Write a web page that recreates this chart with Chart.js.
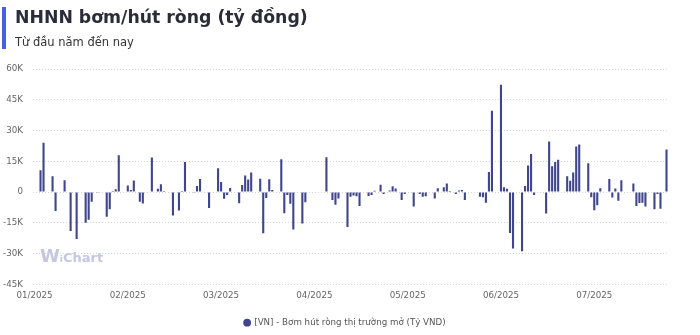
<!DOCTYPE html>
<html>
<head>
<meta charset="utf-8">
<style>
html,body{margin:0;padding:0;background:#fff;}
#wrap{position:relative;width:700px;height:335px;overflow:hidden;font-family:"DejaVu Sans",sans-serif;}
#accent{position:absolute;left:2px;top:7px;width:4px;height:42px;background:#4461e6;}
#title{position:absolute;left:15px;top:6px;font-size:17.3px;font-weight:bold;color:#2b2b3a;white-space:nowrap;line-height:22px;}
#sub{position:absolute;left:15px;top:35px;font-size:11.5px;color:#333;white-space:nowrap;line-height:14px;}
#wm{position:absolute;left:40px;top:246px;color:#c4c7e2;font-weight:bold;white-space:nowrap;line-height:20px;}
canvas{position:absolute;left:0;top:0;}
</style>
<script src="https://cdn.jsdelivr.net/npm/chart.js@4"></script>
</head>
<body>
<div id="wrap">
  <canvas id="c" width="700" height="335"></canvas>
  <div id="accent"></div>
  <div id="title">NHNN bơm/hút ròng (tỷ đồng)</div>
  <div id="sub">Từ đầu năm đến nay</div>
  <div id="wm"><span style="font-size:18px">W</span><span style="font-size:9px">i</span><span style="font-size:13px">Chart</span></div>
</div>
<script>
// ---- data ----
const startDate = '2025-01-01';
const dayCount = 211;               // calendar days on the category axis
const tickEvery = 31;               // a month label every 31 categories
const monthLabels = ['01/2025','02/2025','03/2025','04/2025','05/2025','06/2025','07/2025'];
const seriesName = '[VN] - Bơm hút ròng thị trường mở (Tỷ VND)';

// day index (from 01/01/2025) of each bar
const barDays = [
  2,3,6,7,10,12,14,17,18,19,21,24,25,26,27,28,31,32,33,35,36,39,40,41,42,43,
  46,48,49,50,53,54,55,58,61,62,63,64,65,68,69,70,71,72,75,76,77,78,79,
  82,83,84,85,86,89,90,97,99,100,101,104,105,106,107,108,111,112,113,115,116,
  118,119,120,122,123,126,128,129,130,133,134,136,137,138,140,141,142,143,144,
  148,149,150,151,152,155,156,157,158,159,162,163,164,165,166,
  170,171,172,173,174,177,178,179,180,181,184,185,186,187,188,
  191,192,193,194,195,199,200,201,202,203,206,207,208,210
];
// net injection (+) / withdrawal (-), tỷ đồng
const barValues = [
  10600,24000,7700,-9200,5800,-19000,-22900,-15000,-13500,-4700,-300,-12000,-8400,500,1300,17900,3200,1000,5600,-4700,-5600,16900,300,1600,3800,500,
  -11400,-9000,500,14600,-300,2900,6300,-7800,11600,4900,-3300,-1500,2000,-5500,3400,8000,6100,9500,6500,-20100,-2900,6200,1000,
  16000,-10300,-1500,-5700,-18300,-15400,-5000,17000,-3900,-6200,-3100,-17000,-2300,-1700,-2100,-6800,-1900,-1500,600,3600,-1000,
  800,2800,1700,-3900,-1000,-7100,-1000,-2300,-2000,-3100,1800,2300,4200,500,-1000,800,1000,-3900,300,
  -2300,-2600,-5200,9800,39600,52300,2300,1600,-20000,-27500,-28900,2900,12950,18500,-1400,
  -10500,24600,12600,14600,15800,7700,5500,9500,22200,23200,14000,-2600,-8850,-6450,1900,
  6350,-2650,1700,-4200,5750,4200,-6800,-5300,-5200,-7100,-8400,-1000,-8200,20700
];
const yMin = -45000, yMax = 60000, yStep = 15000;

// ---- build library inputs ----
const labels = [];
const d0 = new Date(startDate + 'T00:00:00Z');
for (let i = 0; i < dayCount; i++) {
  const d = new Date(d0.getTime() + i * 86400000);
  labels.push(d.toISOString().slice(0,10));
}
const series = new Array(dayCount).fill(null);
barDays.forEach((d, k) => { series[d] = barValues[k]; });

const FONT = "'DejaVu Sans', sans-serif";
Chart.defaults.font.family = FONT;

new Chart(document.getElementById('c'), {
  type: 'bar',
  data: {
    labels: labels,
    datasets: [{
      label: seriesName,
      data: series,
      backgroundColor: '#3f468f',
      borderWidth: 0,
      barPercentage: 0.7,
      categoryPercentage: 1.0
    }]
  },
  options: {
    responsive: false,
    animation: false,
    layout: { padding: { top: 69, left: 0, right: 10, bottom: -2 } },
    plugins: {
      tooltip: { enabled: false },
      legend: {
        position: 'bottom',
        labels: {
          usePointStyle: true,
          pointStyle: 'circle',
          boxWidth: 5.5,
          boxHeight: 5.5,
          padding: 8,
          color: '#555',
          font: { family: FONT, size: 8.7 }
        }
      }
    },
    scales: {
      x: {
        grid: { display: false, drawTicks: false },
        border: { display: false },
        ticks: {
          autoSkip: false,
          maxRotation: 0,
          minRotation: 0,
          padding: 6,
          color: '#666',
          font: { family: FONT, size: 8.7 },
          callback: function(v, i) { return i % tickEvery === 0 ? monthLabels[i / tickEvery] : null; }
        },
        afterFit: function(s) { s.height = 26; }
      },
      y: {
        min: yMin,
        max: yMax,
        ticks: {
          stepSize: yStep,
          padding: 10,
          color: '#666',
          font: { family: FONT, size: 8.7 },
          callback: function(v) { return v === 0 ? '0' : (v / 1000) + 'K'; }
        },
        grid: { color: '#d4d4d4', drawTicks: false, lineWidth: 1 },
        border: { display: false, dash: [1, 2] },
        afterFit: function(s) { s.width = 33; }
      },
      yR: {
        type: 'linear',
        position: 'right',
        display: true,
        grid: { display: false },
        border: { display: false },
        ticks: { display: false },
        afterFit: function(s) { s.width = 22; }
      }
    }
  }
});
</script>
</body>
</html>
